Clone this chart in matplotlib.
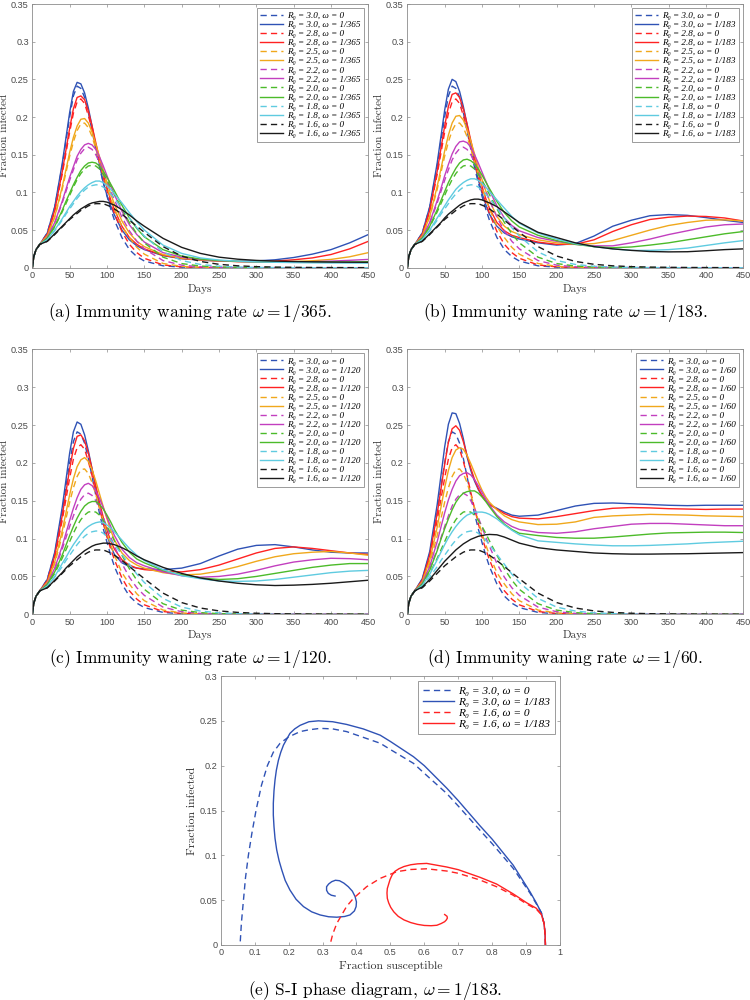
import matplotlib
matplotlib.use("Agg")
import matplotlib.pyplot as plt

plt.rcParams['mathtext.fontset'] = 'cm'
plt.rcParams['font.family'] = ['Liberation Sans', 'DejaVu Sans']

# --- Data ---
DAYS = [0, 2, 5, 10, 20, 30, 40, 45, 50, 55, 60, 65, 70, 75, 80, 85, 90, 95, 100, 105, 110,
        120, 130, 140, 150, 175, 200, 225, 250, 275, 300, 325, 350, 375, 400, 425, 450]

R0_LABELS = ['3.0', '2.8', '2.5', '2.2', '2.0', '1.8', '1.6']
COLORS = ['#2f52b5', '#ff2222', '#f0a81c', '#c23fbf', '#4cbb2a', '#5fcbe0', '#1a1a1a']

# omega = 0 (dashed, same in every panel)
BASE_30 = [0, .015, .024, .031, .046, .080, .135, .168, .200, .228, .241, .238, .226, .206, .182, .157, .133, .113, .095, .078, .063,
           .040, .024, .0147, .0089, .0025, .0007, .0002, .0001, 0, 0, 0, 0, 0, 0, 0, 0]
BASE_28 = [0, .015, .024, .031, .044, .075, .124, .152, .180, .205, .220, .224, .218, .202, .183, .161, .140, .120, .102, .086, .072,
           .048, .031, .020, .0125, .0037, .0011, .0003, .0001, 0, 0, 0, 0, 0, 0, 0, 0]
BASE_25 = [0, .015, .024, .031, .042, .067, .104, .126, .148, .167, .182, .191, .192, .186, .174, .158, .141, .124, .107, .092, .078,
           .055, .040, .027, .018, .0056, .0018, .0006, .0002, .0001, 0, 0, 0, 0, 0, 0, 0]
BASE_22 = [0, .015, .024, .031, .040, .059, .086, .101, .116, .130, .143, .152, .158, .160, .157, .150, .140, .128, .115, .102, .090,
           .067, .049, .035, .025, .0095, .0034, .0012, .0004, .00015, .0001, 0, 0, 0, 0, 0, 0]
BASE_20 = [0, .015, .024, .031, .039, .054, .074, .085, .096, .107, .117, .125, .131, .135, .136, .135, .131, .124, .116, .107, .097,
           .078, .060, .045, .033, .014, .0055, .0022, .0009, .0004, .00015, .0001, 0, 0, 0, 0, 0]
BASE_18 = [0, .015, .024, .031, .037, .049, .063, .071, .078, .085, .092, .098, .103, .107, .109, .110, .110, .107, .103, .098, .092,
           .079, .066, .053, .042, .021, .0095, .0043, .0019, .0009, .0004, .0002, .0001, 0, 0, 0, 0]
BASE_16 = [0, .015, .024, .031, .035, .044, .054, .059, .064, .068, .072, .076, .079, .082, .084, .085, .085, .085, .083, .081, .078,
           .071, .063, .055, .047, .028, .0155, .0083, .0045, .0025, .0014, .0008, .0005, .0003, .0002, .0001, .0001]

# omega = 1/365
W365_30 = [0, .015, .024, .031, .046, .081, .138, .172, .206, .234, .246, .244, .232, .212, .188, .162, .137, .113, .096, .082, .070,
           .050, .037, .029, .024, .016, .012, .010, .009, .0085, .009, .0105, .0135, .018, .024, .033, .044]
W365_28 = [0, .015, .024, .031, .044, .076, .127, .156, .185, .211, .226, .228, .223, .208, .188, .166, .144, .124, .106, .090, .077,
           .055, .040, .031, .025, .0165, .0122, .0102, .0089, .0082, .0081, .0088, .0105, .013, .0175, .025, .035]
W365_25 = [0, .015, .024, .031, .042, .068, .107, .130, .153, .173, .188, .197, .198, .192, .180, .164, .147, .130, .113, .098, .084,
           .062, .046, .035, .028, .0175, .0128, .0104, .009, .0081, .0077, .0077, .0082, .0092, .011, .0145, .020]
W365_22 = [0, .015, .024, .031, .040, .060, .088, .104, .120, .134, .148, .157, .163, .165, .163, .157, .147, .135, .122, .109, .097,
           .075, .057, .044, .034, .020, .014, .011, .0093, .0082, .0076, .0074, .0075, .008, .0087, .0098, .011]
W365_20 = [0, .015, .024, .031, .039, .055, .076, .088, .099, .110, .120, .129, .135, .139, .140, .139, .135, .128, .120, .111, .102,
           .083, .066, .052, .041, .024, .0155, .0115, .0095, .0084, .0078, .0075, .0073, .0073, .0074, .0076, .0079]
W365_18 = [0, .015, .024, .031, .037, .050, .065, .073, .081, .088, .095, .101, .106, .110, .113, .115, .115, .113, .109, .104, .098,
           .086, .073, .061, .050, .030, .019, .013, .0102, .0087, .0078, .0072, .0068, .0065, .0063, .0062, .0061]
W365_16 = [0, .015, .024, .031, .035, .045, .055, .060, .065, .070, .074, .078, .081, .084, .086, .087, .088, .088, .087, .085, .083,
           .077, .070, .062, .055, .039, .027, .019, .014, .0113, .0097, .0088, .0082, .0078, .0075, .0073, .0072]

# omega = 1/183
W183_30 = [0, .015, .024, .031, .046, .081, .139, .174, .209, .237, .250, .247, .234, .214, .190, .165, .140, .117, .099, .084, .071,
           .055, .046, .041, .038, .033, .030, .032, .042, .055, .063, .069, .0705, .0695, .0665, .063, .060]
W183_28 = [0, .015, .024, .031, .044, .076, .128, .158, .188, .214, .230, .232, .226, .211, .191, .169, .147, .126, .108, .092, .079,
           .060, .049, .043, .040, .034, .031, .031, .037, .048, .057, .064, .067, .0685, .068, .066, .062]
W183_25 = [0, .015, .024, .031, .042, .068, .108, .131, .155, .176, .192, .201, .202, .196, .184, .168, .151, .133, .117, .102, .089,
           .068, .055, .048, .044, .037, .033, .031, .032, .036, .043, .050, .056, .060, .063, .0635, .062]
W183_22 = [0, .015, .024, .031, .040, .060, .089, .105, .122, .137, .151, .161, .167, .168, .166, .160, .150, .139, .127, .115, .103,
           .082, .066, .056, .049, .040, .035, .031, .029, .029, .033, .038, .044, .049, .054, .057, .058]
W183_20 = [0, .015, .024, .031, .039, .055, .077, .089, .101, .113, .123, .132, .139, .143, .144, .142, .138, .131, .123, .114, .105,
           .088, .073, .062, .054, .043, .036, .031, .028, .0265, .0275, .030, .033, .037, .041, .045, .048]
W183_18 = [0, .015, .024, .031, .037, .050, .066, .074, .082, .090, .097, .104, .109, .113, .116, .118, .118, .116, .112, .107, .101,
           .090, .079, .068, .059, .046, .038, .032, .028, .025, .023, .023, .024, .026, .0295, .033, .036]
W183_16 = [0, .015, .024, .031, .035, .045, .055, .060, .066, .071, .075, .079, .083, .086, .088, .090, .091, .091, .090, .088, .086,
           .081, .074, .067, .060, .047, .040, .033, .028, .025, .023, .0215, .021, .0212, .0225, .024, .025]

# omega = 1/120
W120_30 = [0, .015, .024, .031, .046, .082, .141, .177, .213, .241, .254, .251, .237, .216, .192, .167, .143, .122, .104, .090, .079,
           .068, .063, .061, .060, .059, .061, .067, .077, .086, .091, .092, .089, .085, .082, .081, .081]
W120_28 = [0, .015, .024, .031, .044, .077, .130, .161, .192, .219, .235, .237, .229, .213, .192, .170, .148, .128, .111, .097, .086,
           .072, .065, .061, .059, .057, .056, .059, .065, .073, .081, .087, .089, .087, .084, .081, .079]
W120_25 = [0, .015, .024, .031, .042, .069, .110, .134, .158, .179, .195, .204, .207, .202, .191, .176, .159, .142, .126, .111, .098,
           .081, .071, .065, .061, .055, .052, .053, .057, .063, .070, .076, .080, .082, .083, .081, .078]
W120_22 = [0, .015, .024, .031, .040, .061, .090, .107, .124, .140, .154, .165, .171, .173, .170, .163, .153, .141, .128, .116, .104,
           .086, .075, .068, .064, .056, .051, .049, .050, .053, .058, .064, .069, .072, .074, .0735, .072]
W120_20 = [0, .015, .024, .031, .039, .056, .078, .091, .104, .116, .127, .136, .143, .147, .149, .149, .145, .139, .131, .122, .112,
           .095, .082, .073, .068, .058, .052, .048, .046, .047, .050, .054, .058, .062, .065, .067, .067]
W120_18 = [0, .015, .024, .031, .037, .050, .067, .075, .084, .092, .099, .106, .112, .116, .119, .121, .122, .121, .118, .114, .109,
           .098, .087, .078, .071, .059, .051, .047, .044, .0435, .044, .046, .049, .052, .055, .057, .058]
W120_16 = [0, .015, .024, .031, .035, .045, .055, .061, .066, .071, .076, .080, .084, .087, .090, .092, .093, .094, .094, .093, .092,
           .088, .083, .077, .072, .062, .054, .048, .044, .041, .039, .038, .0385, .0395, .041, .043, .045]

# omega = 1/60
W60_30 = [0, .015, .024, .031, .047, .083, .145, .183, .221, .251, .266, .265, .252, .232, .208, .190, .176, .165, .156, .150, .145,
          .140, .135, .131, .1295, .131, .137, .143, .1465, .147, .146, .145, .144, .1435, .144, .144, .144]
W60_28 = [0, .015, .024, .031, .045, .078, .133, .165, .198, .227, .245, .249, .243, .228, .210, .193, .178, .166, .157, .150, .145,
          .139, .133, .129, .127, .126, .129, .133, .137, .140, .141, .1405, .1395, .139, .1385, .139, .139]
W60_25 = [0, .015, .024, .031, .043, .071, .115, .141, .167, .190, .207, .217, .220, .218, .210, .199, .187, .175, .164, .155, .148,
          .138, .130, .125, .122, .1185, .119, .122, .128, .130, .131, .132, .1315, .131, .130, .1295, .129]
W60_22 = [0, .015, .024, .031, .041, .063, .096, .115, .134, .151, .165, .176, .183, .186, .187, .184, .178, .170, .161, .152, .144,
          .131, .122, .116, .112, .108, .107, .109, .113, .116, .119, .120, .120, .119, .118, .117, .117]
W60_20 = [0, .015, .024, .031, .040, .058, .084, .099, .113, .126, .138, .148, .155, .160, .162, .163, .163, .160, .155, .149, .142,
          .129, .119, .112, .107, .104, .1015, .1005, .1005, .102, .104, .106, .1075, .108, .1085, .1085, .108]
W60_18 = [0, .015, .024, .031, .038, .053, .072, .082, .092, .101, .109, .116, .122, .127, .131, .133, .135, .135, .135, .134, .132,
          .126, .118, .111, .105, .097, .095, .093, .0915, .0905, .0905, .091, .092, .093, .0945, .0955, .0965]
W60_16 = [0, .015, .024, .031, .036, .046, .058, .064, .070, .075, .080, .085, .089, .093, .096, .099, .101, .103, .104, .105, .1055,
          .105, .102, .098, .094, .088, .085, .083, .081, .080, .0795, .0795, .0798, .080, .0805, .081, .0815]

# S-I phase diagram, omega = 1/183
S_30_DASH = [0.957, 0.956, 0.953, 0.945, 0.93, 0.912, 0.862, 0.80, 0.764, 0.70, 0.666, 0.60, 0.568, 0.50, 0.47, 0.42, 0.371,
             0.33, 0.293, 0.26, 0.234, 0.20, 0.175, 0.155, 0.1375, 0.12, 0.104, 0.092, 0.0815, 0.073, 0.067, 0.061, 0.057]
I_30_DASH = [0.0, 0.012, 0.024, 0.036, 0.046, 0.0576, 0.0855, 0.113, 0.128, 0.155, 0.169, 0.1915, 0.2026, 0.218, 0.225, 0.2316,
             0.238, 0.241, 0.2416, 0.240, 0.238, 0.232, 0.225, 0.215, 0.200, 0.178, 0.150, 0.125, 0.100, 0.075, 0.050, 0.025, 0.0]
S_30_WANE = [0.957, 0.956, 0.953, 0.945, 0.93, 0.912, 0.862, 0.80, 0.764, 0.70, 0.666, 0.60, 0.568, 0.50, 0.47, 0.42, 0.371,
             0.33, 0.288, 0.26, 0.234, 0.218, 0.204, 0.185, 0.177, 0.17, 0.164, 0.16, 0.157, 0.155, 0.155, 0.157, 0.160,
             0.165, 0.172, 0.18, 0.19, 0.204, 0.222, 0.244, 0.268, 0.293, 0.318, 0.342, 0.365, 0.381, 0.394, 0.399, 0.400,
             0.396, 0.388, 0.376, 0.363, 0.350, 0.338, 0.327, 0.318, 0.312, 0.312, 0.317, 0.326, 0.337]
I_30_WANE = [0.0, 0.012, 0.024, 0.036, 0.047, 0.059, 0.089, 0.118, 0.133, 0.161, 0.175, 0.200, 0.210, 0.227, 0.234, 0.241,
             0.246, 0.249, 0.250, 0.249, 0.245, 0.241, 0.236, 0.223, 0.215, 0.206, 0.195, 0.184, 0.172, 0.158, 0.145, 0.132,
             0.119, 0.106, 0.094, 0.0836, 0.072, 0.0613, 0.051, 0.0428, 0.037, 0.0335, 0.0315, 0.031, 0.0318, 0.0335, 0.038,
             0.0428, 0.048, 0.054, 0.060, 0.065, 0.069, 0.0717, 0.0722, 0.0706, 0.068, 0.065, 0.061, 0.0576, 0.0555, 0.0546]
S_16_DASH = [0.957, 0.956, 0.953, 0.945, 0.93, 0.902, 0.862, 0.813, 0.764, 0.70, 0.666, 0.607, 0.56, 0.519, 0.47, 0.43,
             0.391, 0.371, 0.342, 0.33, 0.322]
I_16_DASH = [0.0, 0.012, 0.024, 0.034, 0.040, 0.0457, 0.0555, 0.065, 0.0725, 0.080, 0.0825, 0.085, 0.0842, 0.0818, 0.0743,
             0.065, 0.052, 0.043, 0.024, 0.012, 0.0]
S_16_WANE = [0.957, 0.956, 0.953, 0.945, 0.93, 0.902, 0.862, 0.813, 0.764, 0.70, 0.666, 0.607, 0.58, 0.56, 0.54, 0.525,
             0.513, 0.505, 0.499, 0.495, 0.491, 0.49, 0.491, 0.495, 0.501, 0.51, 0.523, 0.54, 0.56, 0.58, 0.60, 0.62, 0.637,
             0.65, 0.66, 0.665, 0.668, 0.667, 0.66]
I_16_WANE = [0.0, 0.012, 0.024, 0.034, 0.041, 0.047, 0.057, 0.068, 0.0755, 0.084, 0.087, 0.091, 0.0905, 0.0895, 0.0875, 0.085,
             0.082, 0.078, 0.073, 0.068, 0.063, 0.058, 0.052, 0.047, 0.042, 0.037, 0.032, 0.028, 0.025, 0.023, 0.0218, 0.0215,
             0.022, 0.024, 0.026, 0.028, 0.030, 0.032, 0.034]

DAY_TICKS = [0, 50, 100, 150, 200, 250, 300, 350, 400, 450]
FRAC_TICKS = [0, 0.05, 0.1, 0.15, 0.2, 0.25, 0.3, 0.35]
S_TICKS = [0, 0.1, 0.2, 0.3, 0.4, 0.5, 0.6, 0.7, 0.8, 0.9, 1]
I_TICKS = [0, 0.05, 0.1, 0.15, 0.2, 0.25, 0.3]

BASELINE = [BASE_30, BASE_28, BASE_25, BASE_22, BASE_20, BASE_18, BASE_16]
PANELS = [
    ('1/365', [W365_30, W365_28, W365_25, W365_22, W365_20, W365_18, W365_16]),
    ('1/183', [W183_30, W183_28, W183_25, W183_22, W183_20, W183_18, W183_16]),
    ('1/120', [W120_30, W120_28, W120_25, W120_22, W120_20, W120_18, W120_16]),
    ('1/60', [W60_30, W60_28, W60_25, W60_22, W60_20, W60_18, W60_16]),
]

SERIF = 'cmr10'
LEG_FONT = {'family': ['Liberation Serif', 'DejaVu Serif'], 'style': 'italic'}
AX_GRAY = '#8c8c8c'
TICK_TXT = '#4a4a4a'
DASH = (0, (4.5, 3))


def style(ax, xticks, yticks, xlabel, ylabel, fs_lab=8, fs_tick=6.6):
    ax.set_xticks(xticks)
    ax.set_yticks(yticks)
    ax.set_xticklabels(['%g' % t for t in xticks])
    ax.set_yticklabels(['%g' % t for t in yticks])
    ax.tick_params(direction='in', length=2.5, width=0.5, top=True, right=True,
                   colors=AX_GRAY, labelcolor=TICK_TXT, labelsize=fs_tick, pad=2.5)
    for sp in ax.spines.values():
        sp.set_color(AX_GRAY)
        sp.set_linewidth(0.6)
    ax.set_xlabel(xlabel, fontfamily=SERIF, fontsize=fs_lab, color='#333333', labelpad=2.5)
    ax.set_ylabel(ylabel, fontfamily=SERIF, fontsize=fs_lab, color='#333333', labelpad=1.5)


def add_legend(ax, size, spacing, hlen, pad_ax):
    leg = ax.legend(loc='upper right', prop=dict(LEG_FONT, size=size), fancybox=False,
                    framealpha=1, edgecolor=AX_GRAY, handlelength=hlen, handletextpad=0.4,
                    labelspacing=spacing, borderpad=0.4, borderaxespad=pad_ax)
    leg.get_frame().set_linewidth(0.6)


fig = plt.figure(figsize=(7.5, 10), dpi=100)

rects = [
    [0.0431, 0.7323, 0.448, 0.2637],
    [0.5431, 0.7323, 0.448, 0.2637],
    [0.0431, 0.3857, 0.448, 0.2650],
    [0.5431, 0.3857, 0.448, 0.2650],
]
caps = [(0.2533, 0.687), (0.7533, 0.687), (0.2533, 0.342), (0.7533, 0.342)]
letters = ['a', 'b', 'c', 'd']

for k, (omega, curves) in enumerate(PANELS):
    ax = fig.add_axes(rects[k])
    for i, lab in enumerate(R0_LABELS):
        ax.plot(DAYS, BASELINE[i], color=COLORS[i], lw=1.0, ls=DASH,
                label='R\u2080 = %s, \u03c9 = 0' % lab)
        ax.plot(DAYS, curves[i], color=COLORS[i], lw=1.0,
                label='R\u2080 = %s, \u03c9 = %s' % (lab, omega))
    ax.set_xlim(0, 450)
    ax.set_ylim(0, 0.35)
    style(ax, DAY_TICKS, FRAC_TICKS, 'Days', 'Fraction infected')
    add_legend(ax, 6.6, 0.07, 2.5, 0.45)
    fig.text(caps[k][0], caps[k][1],
             r'(%s) Immunity waning rate $\omega = %s$.' % (letters[k], omega),
             ha='center', va='center', fontfamily=SERIF, fontsize=12.5)

# phase diagram
ax = fig.add_axes([0.2943, 0.055, 0.4524, 0.269])
ax.plot(S_30_DASH, I_30_DASH, color=COLORS[0], lw=1.0, ls=DASH, label='R\u2080 = 3.0, \u03c9 = 0')
ax.plot(S_30_WANE, I_30_WANE, color=COLORS[0], lw=1.0, label='R\u2080 = 3.0, \u03c9 = 1/183')
ax.plot(S_16_DASH, I_16_DASH, color=COLORS[1], lw=1.0, ls=DASH, label='R\u2080 = 1.6, \u03c9 = 0')
ax.plot(S_16_WANE, I_16_WANE, color=COLORS[1], lw=1.0, label='R\u2080 = 1.6, \u03c9 = 1/183')
ax.set_xlim(0, 1)
ax.set_ylim(0, 0.3)
style(ax, S_TICKS, I_TICKS, 'Fraction susceptible', 'Fraction infected', fs_lab=8.5)
add_legend(ax, 8.2, 0.1, 2.7, 0.45)
fig.text(0.5, 0.01, r'(e) S-I phase diagram, $\omega = 1/183$.',
         ha='center', va='center', fontfamily=SERIF, fontsize=12.5)

fig.savefig('out.png', dpi=100)
